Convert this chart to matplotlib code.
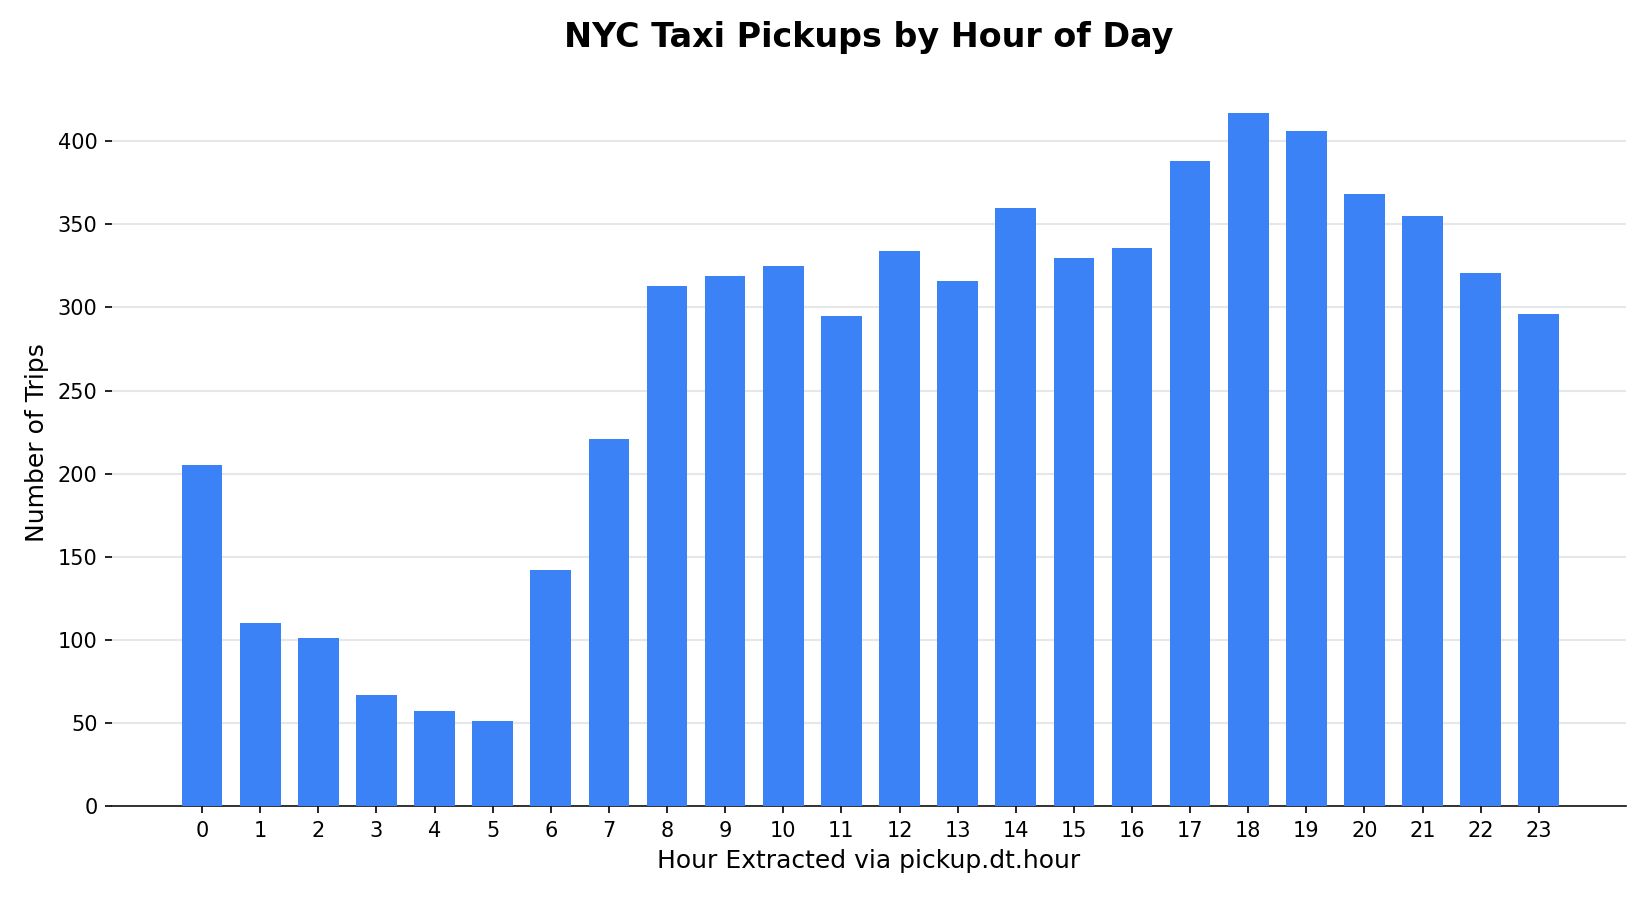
import matplotlib
matplotlib.use("Agg")
import matplotlib.pyplot as plt

hours = list(range(24))
trips = [205, 110, 101, 67, 57, 51, 142, 221, 313, 319, 325, 295,
         334, 316, 360, 330, 336, 388, 417, 406, 368, 355, 321, 296]

fig, ax = plt.subplots(figsize=(11, 6), dpi=150)
fig.subplots_adjust(left=112/1650, right=1626/1650, bottom=94/900, top=0.913)

ax.bar(hours, trips, width=0.7, color="#3b82f6", zorder=3)
ax.set_xticks(hours)
ax.set_xticklabels([str(h) for h in hours])
ax.set_xlim(-1.55, 24.5)
ax.set_ylim(0, max(trips) * 1.05)

ax.grid(axis="y", color="#e5e7eb", linewidth=1.0, zorder=0)
ax.set_axisbelow(True)
for s in ["top", "right", "left"]:
    ax.spines[s].set_visible(False)
ax.spines["bottom"].set_color("#111111")

ax.tick_params(axis="both", labelsize=10)
ax.set_xlabel("Hour Extracted via pickup.dt.hour", fontsize=12)
ax.set_ylabel("Number of Trips", fontsize=12)
ax.set_title("NYC Taxi Pickups by Hour of Day", fontsize=16, fontweight="bold", pad=15)

fig.savefig("out.png", dpi=150)
